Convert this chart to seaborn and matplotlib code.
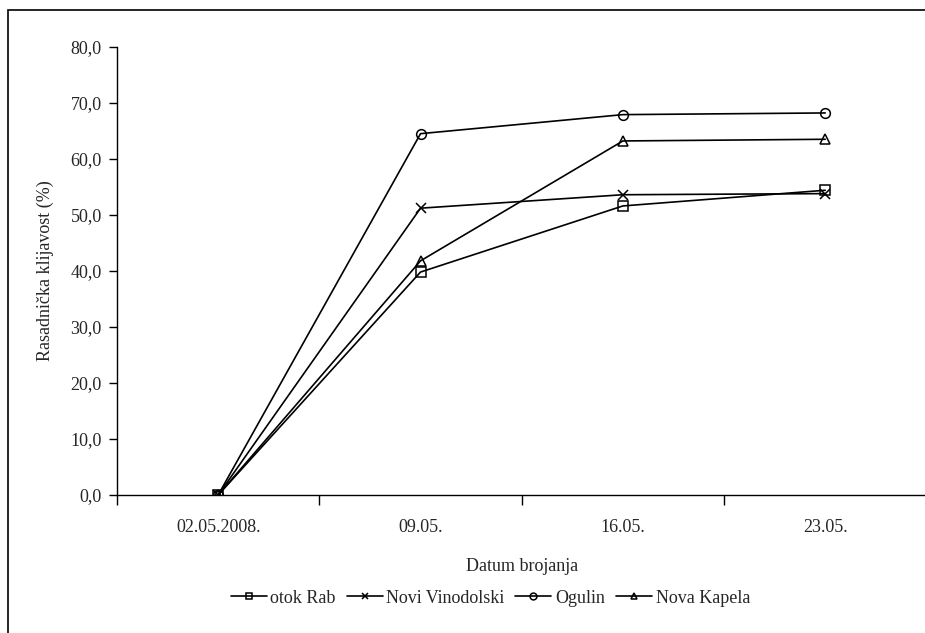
import numpy as np
import pandas as pd
import matplotlib
matplotlib.use("Agg")
import matplotlib.pyplot as plt
import matplotlib.ticker as mticker
from matplotlib.patches import Rectangle
import seaborn as sns

dates = ["02.05.2008.", "09.05.", "16.05.", "23.05."]
otok_rab = [0.0, 39.8, 51.6, 54.4]
novi_vinodolski = [0.0, 51.2, 53.6, 53.8]
ogulin = [0.0, 64.5, 67.9, 68.2]
nova_kapela = [0.0, 41.8, 63.2, 63.5]

series_names = ["otok Rab", "Novi Vinodolski", "Ogulin", "Nova Kapela"]
series_values = [otok_rab, novi_vinodolski, ogulin, nova_kapela]
series_markers = ["s", "x", "o", "^"]

sns.set_theme(style="white")
plt.rcParams["font.family"] = ["Liberation Serif", "DejaVu Serif"]
FS = 13

fig = plt.figure(figsize=(9.25, 6.33), dpi=100)
ax = fig.add_axes([0.1265, 0.218, 0.875, 0.708])

handles = []
for name, vals, mk in zip(series_names, series_values, series_markers):
    df = pd.DataFrame({"Datum": dates, "Vrijednost": vals})
    sns.lineplot(
        data=df, x="Datum", y="Vrijednost", sort=False, ax=ax,
        color="black", linewidth=1.2, marker=mk, markersize=7,
        markerfacecolor="none", markeredgecolor="black",
        markeredgewidth=1.1, label=name,
    )
    handles.append(ax.get_lines()[-1])
if ax.get_legend() is not None:
    ax.get_legend().remove()

ax.set_xlim(-0.5, 3.5)
ax.set_ylim(0, 80)
ax.set_yticks(np.arange(0, 81, 10))
ax.yaxis.set_major_formatter(
    mticker.FuncFormatter(lambda v, p: f"{v:.1f}".replace(".", ","))
)
ax.set_xticks(range(len(dates)))
ax.set_xticklabels(dates)
ax.xaxis.set_minor_locator(mticker.FixedLocator(np.arange(-0.5, 3.6, 1.0)))
ax.tick_params(axis="x", which="major", length=0, pad=17, labelsize=FS)
ax.tick_params(axis="x", which="minor", length=7, width=1, direction="out",
               color="black", bottom=True)
ax.tick_params(axis="y", which="major", length=6, width=1, direction="out",
               color="black", left=True, labelsize=FS, pad=5)

for side in ["top", "right"]:
    ax.spines[side].set_visible(False)
for side in ["left", "bottom"]:
    ax.spines[side].set_color("black")
    ax.spines[side].set_linewidth(1.0)

ax.set_xlabel("Datum brojanja", fontsize=FS, labelpad=16)
ax.set_ylabel("Rasadnička klijavost (%)", fontsize=FS, labelpad=12)

fig.legend(handles, series_names, loc="center", bbox_to_anchor=(0.53, 0.055),
           ncol=4, frameon=False, fontsize=FS, handlelength=2.0,
           handletextpad=0.2, columnspacing=0.6, markerscale=0.7)

fig.patches.append(Rectangle((8 / 925, -0.1), 1.2, 1 - 10 / 633 + 0.1,
                             transform=fig.transFigure, fill=False,
                             edgecolor="black", linewidth=1.2))

fig.savefig("out.png", dpi=100)
